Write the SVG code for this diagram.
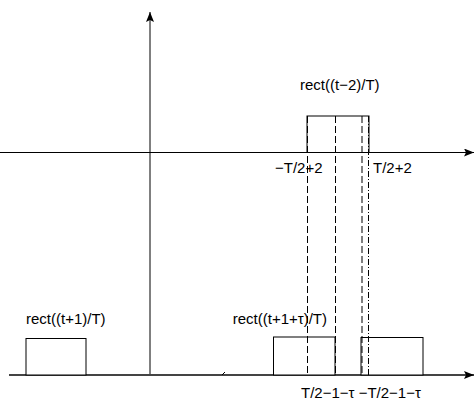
<svg xmlns="http://www.w3.org/2000/svg" width="474" height="399" viewBox="0 0 474 399">
<style>
text{font-family:"Liberation Sans",Arial,sans-serif;font-size:15px;fill:#000}
.ax{stroke:#000;stroke-width:1;fill:none}
.ax2{stroke:#444;stroke-width:2;fill:none}
.box{stroke:#000;stroke-width:1;fill:#fff}
.dash{stroke:#000;stroke-width:1;stroke-dasharray:7 3;fill:none}
.dd{stroke:#000;stroke-width:1;stroke-dasharray:6 2 1 2;fill:none}
</style>
<defs>
<marker id="ah" viewBox="0 0 10 8" refX="10" refY="4" markerWidth="10" markerHeight="8" markerUnits="userSpaceOnUse" orient="auto">
<path d="M0,0 L10,4 L0,8 L2,4 Z" fill="#000"/>
</marker>
</defs>
<g id="connectors">
<line class="ax" x1="150" y1="375" x2="150" y2="12" marker-end="url(#ah)"/>
<line class="ax" x1="0" y1="152.5" x2="474" y2="152.5" marker-end="url(#ah)"/>
<line class="ax2" x1="9" y1="375" x2="474" y2="375" marker-end="url(#ah)"/>
<line class="ax" x1="222" y1="375" x2="225" y2="372"/>
</g>
<g id="rect-top">
<rect class="box" x="307" y="116" width="62" height="36.5"/>
<text x="300" y="89.5">rect((t−2)/T)</text>
</g>
<g id="rect-left">
<rect class="box" x="26" y="338.5" width="60" height="36.5"/>
<text x="26" y="323.5">rect((t+1)/T)</text>
</g>
<g id="rect-mid">
<rect class="box" x="273.5" y="337" width="61.5" height="38"/>
<text x="327" y="323.5" text-anchor="end">rect((t+1+τ)/T)</text>
</g>
<g id="rect-right">
<rect class="box" x="361" y="337.5" width="62" height="37.5"/>
</g>
<g id="guides">
<line class="dash" x1="307.5" y1="116" x2="307.5" y2="375"/>
<line class="dash" x1="335.5" y1="116" x2="335.5" y2="375"/>
<line class="dash" x1="362" y1="116" x2="362" y2="375"/>
<line class="dd" x1="368.5" y1="116" x2="368.5" y2="375"/>
</g>
<g id="labels">
<text x="275" y="173">−T/2+2</text>
<text x="373" y="173">T/2+2</text>
<text x="301" y="397.5">T/2−1−τ −T/2−1−τ</text>
</g>
</svg>
